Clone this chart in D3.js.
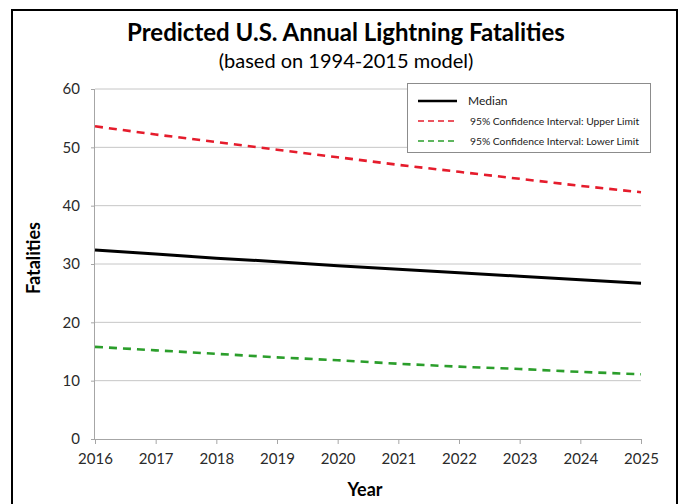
<!DOCTYPE html>
<html>
<head>
<meta charset="utf-8">
<script src="https://cdn.jsdelivr.net/npm/d3@7"></script>
<style>
  html, body { margin: 0; padding: 0; background: #fff; }
  svg { display: block; }
  text { font-family: Lato, "Noto Sans", sans-serif; }
</style>
</head>
<body>
<svg id="chart" width="680" height="504"></svg>
<script>
// Forecast years and model outputs
const years = [2016, 2017, 2018, 2019, 2020, 2021, 2022, 2023, 2024, 2025];
const median = [32.4, 31.7, 31.0, 30.4, 29.7, 29.1, 28.5, 27.9, 27.3, 26.7];
const upper  = [53.6, 52.2, 50.9, 49.6, 48.3, 47.0, 45.8, 44.6, 43.4, 42.3];
const lower  = [15.8, 15.2, 14.6, 14.0, 13.5, 12.9, 12.4, 12.0, 11.5, 11.1];
const yTicks = [0, 10, 20, 30, 40, 50, 60];

const seriesNames = ["Median", "95% Confidence Interval:  Upper Limit", "95% Confidence Interval:  Lower Limit"];

const svg = d3.select("#chart");

// outer frame
svg.append("rect")
  .attr("x", 12).attr("y", 10).attr("width", 665).attr("height", 520)
  .attr("fill", "#fff").attr("stroke", "#000").attr("stroke-width", 2);

const plot = { left: 95, right: 641, top: 89, bottom: 439 };

const x = d3.scaleLinear().domain([2016, 2025]).range([plot.left, plot.right]);
const y = d3.scaleLinear().domain([0, 60]).range([plot.bottom, plot.top]);

// gridlines
svg.append("g")
  .selectAll("line")
  .data(yTicks.filter(t => t > 0))
  .join("line")
  .attr("x1", plot.left).attr("x2", plot.right)
  .attr("y1", d => y(d)).attr("y2", d => y(d))
  .attr("stroke", "#c6c6c6").attr("stroke-width", 1);

// y axis
const yAxis = svg.append("g")
  .attr("transform", `translate(${plot.left},0)`)
  .call(d3.axisLeft(y).tickValues(yTicks).tickSize(4).tickPadding(11).tickFormat(d3.format("d")));
yAxis.select(".domain").attr("stroke", "#a6a6a6").attr("d", `M-0.5,${plot.top}V${plot.bottom}`);
yAxis.selectAll(".tick line").attr("stroke", "#a6a6a6");
yAxis.selectAll(".tick text").attr("fill", "#2a2a2a").style("font-size", "15px").style("font-family", "Lato, sans-serif");

// x axis
const xAxis = svg.append("g")
  .attr("transform", `translate(0,${plot.bottom})`)
  .call(d3.axisBottom(x).tickValues(years).tickSize(5).tickPadding(9).tickFormat(d3.format("d")));
xAxis.select(".domain").attr("stroke", "#a6a6a6").attr("d", `M${plot.left - 4},0.5H${plot.right}`);
xAxis.selectAll(".tick line").attr("stroke", "#a6a6a6");
xAxis.selectAll(".tick text").attr("fill", "#2a2a2a").style("font-size", "15px").style("font-family", "Lato, sans-serif");

// series lines
const line = d3.line().x((d, i) => x(years[i])).y(d => y(d));

const series = [
  { name: seriesNames[0], values: median, color: "#000000", width: 3, dash: null },
  { name: seriesNames[1], values: upper,  color: "#e51c2c", width: 2.6, dash: "8,6" },
  { name: seriesNames[2], values: lower,  color: "#2b9e2b", width: 2.6, dash: "8,6" }
];

svg.append("g").selectAll("path")
  .data(series)
  .join("path")
  .attr("d", d => line(d.values))
  .attr("fill", "none")
  .attr("stroke", d => d.color)
  .attr("stroke-width", d => d.width)
  .attr("stroke-dasharray", d => d.dash);

// legend
const lg = svg.append("g");
lg.append("rect")
  .attr("x", 407.5).attr("y", 83.5).attr("width", 243).attr("height", 69)
  .attr("fill", "#fff").attr("stroke", "#8c8c8c").attr("stroke-width", 1);

const rows = [
  { y: 101, size: "12px" },
  { y: 121, size: "10.3px" },
  { y: 141, size: "10.3px" }
];
series.forEach((s, i) => {
  lg.append("line")
    .attr("x1", 418).attr("x2", 457)
    .attr("y1", rows[i].y).attr("y2", rows[i].y)
    .attr("stroke", s.color)
    .attr("stroke-width", i === 0 ? 2.6 : 1.5)
    .attr("stroke-dasharray", s.dash ? "6,4" : null);
  lg.append("text")
    .attr("x", i === 0 ? 468 : 470).attr("y", rows[i].y + 4)
    .attr("fill", "#1a1a1a")
    .style("font-size", rows[i].size)
    .text(s.name);
});

// titles
svg.append("text")
  .attr("x", 346).attr("y", 41)
  .attr("text-anchor", "middle")
  .attr("fill", "#000")
  .style("font-size", "24px").style("font-weight", "bold")
  .text("Predicted U.S. Annual Lightning Fatalities");

svg.append("text")
  .attr("x", 346).attr("y", 68)
  .attr("text-anchor", "middle")
  .attr("fill", "#000")
  .style("font-size", "20px")
  .text("(based on 1994-2015 model)");

svg.append("text")
  .attr("transform", `translate(40,258) rotate(-90)`)
  .attr("text-anchor", "middle")
  .attr("fill", "#000")
  .style("font-size", "18px").style("font-weight", "bold")
  .text("Fatalities");

svg.append("text")
  .attr("x", 365).attr("y", 496)
  .attr("text-anchor", "middle")
  .attr("fill", "#000")
  .style("font-size", "18px").style("font-weight", "bold")
  .text("Year");
</script>
</body>
</html>
